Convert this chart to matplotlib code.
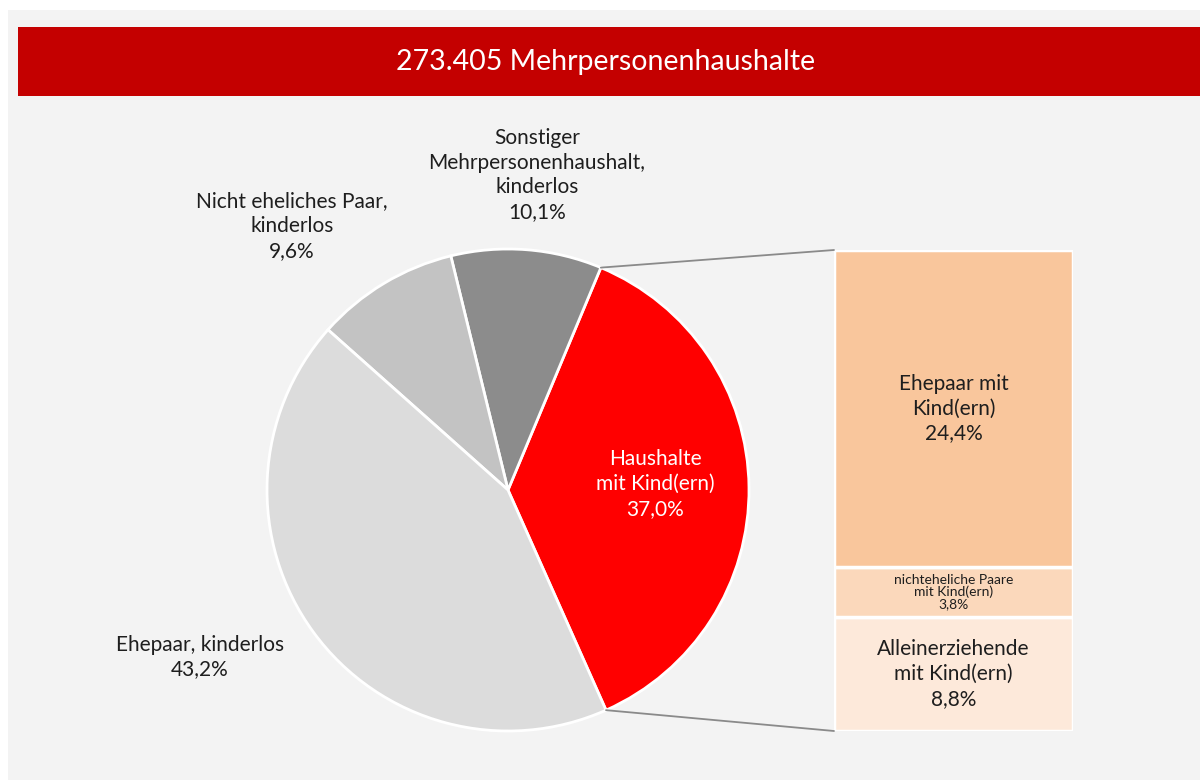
import matplotlib
matplotlib.use("Agg")
import matplotlib.pyplot as plt
from matplotlib.patches import Rectangle, ConnectionPatch
import numpy as np

# ---- data ----
pie_labels = ["Haushalte\nmit Kind(ern)", "Sonstiger\nMehrpersonenhaushalt,\nkinderlos",
              "Nicht eheliches Paar,\nkinderlos", "Ehepaar, kinderlos"]
pie_values = [37.0, 10.1, 9.6, 43.2]
pie_colors = ["#ff0000", "#8c8c8c", "#c3c3c3", "#dcdcdc"]

bar_labels = ["Alleinerziehende\nmit Kind(ern)", "nichteheliche Paare\nmit Kind(ern)", "Ehepaar mit\nKind(ern)"]
bar_values = [8.8, 3.8, 24.4]
bar_colors = ["#fde9da", "#fbd8bb", "#f9c69c"]

title = "273.405 Mehrpersonenhaushalte"

def fmt(v):
    return f"{v:.1f}".replace(".", ",") + "%"

plt.rcParams['font.family'] = ['Lato', 'DejaVu Sans']
W, H = 1200, 781
fig = plt.figure(figsize=(W / 100, H / 100), dpi=100)
fig.patch.set_facecolor("white")

def fx(x):
    return x / W

def fy(y):
    return 1 - y / H

# background panel and banner
fig.patches.append(Rectangle((fx(8), fy(780)), fx(1200) - fx(8), fy(10) - fy(780),
                             transform=fig.transFigure, facecolor="#f3f3f3", edgecolor="none", zorder=-3))
fig.patches.append(Rectangle((fx(18), fy(96)), fx(1200) - fx(18), fy(27) - fy(96),
                             transform=fig.transFigure, facecolor="#c40000", edgecolor="none", zorder=-2))
fig.text(fx(606), fy(62), title, color="white", fontsize=20.5, ha="center", va="center")

# pie
cx, cy, r = 508, 490, 241
ax_pie = fig.add_axes([fx(cx - r), fy(cy + r), 2 * r / W, 2 * r / H])
ax_pie.set_facecolor("none")
start = -66.0
wedges, _ = ax_pie.pie(pie_values, colors=pie_colors, startangle=start, counterclock=True,
                       radius=1, wedgeprops=dict(edgecolor="white", linewidth=2))
ax_pie.set_xlim(-1, 1)
ax_pie.set_ylim(-1, 1)
ax_pie.set_aspect("equal")
ax_pie.axis("off")

# bar
bx0, bx1, by0, by1 = 834, 1073, 250, 731
ax_bar = fig.add_axes([fx(bx0), fy(by1), (bx1 - bx0) / W, (by1 - by0) / H])
ax_bar.set_facecolor("none")
bottom = 0
for v, c in zip(bar_values, bar_colors):
    ax_bar.bar(0.5, v, width=1.0, bottom=bottom, color=c, edgecolor="white", linewidth=2.5)
    bottom += v
ax_bar.set_xlim(0, 1)
ax_bar.set_ylim(0, sum(bar_values))
ax_bar.axis("off")

# connection lines
w_red = wedges[0]
t1, t2 = np.deg2rad(w_red.theta1), np.deg2rad(w_red.theta2)
for t, yb in [(t2, sum(bar_values)), (t1, 0)]:
    con = ConnectionPatch(xyA=(np.cos(t), np.sin(t)), coordsA=ax_pie.transData,
                          xyB=(0, yb), coordsB=ax_bar.transData,
                          color="#8a8a8a", linewidth=1.3)
    fig.add_artist(con)

txt = "#1e1e1e"
fs = 15
ls_main = 1.3
# pie labels
fig.text(fx(655), fy(484), pie_labels[0] + "\n" + fmt(pie_values[0]), color="white",
         fontsize=fs, ha="center", va="center", linespacing=ls_main)
fig.text(fx(537), fy(175), pie_labels[1] + "\n" + fmt(pie_values[1]), color=txt,
         fontsize=fs, ha="center", va="center", linespacing=ls_main)
fig.text(fx(292), fy(226), pie_labels[2] + "\n" + fmt(pie_values[2]), color=txt,
         fontsize=fs, ha="center", va="center", linespacing=ls_main)
fig.text(fx(200), fy(657), pie_labels[3] + "\n" + fmt(pie_values[3]), color=txt,
         fontsize=fs, ha="center", va="center", linespacing=ls_main)

# bar labels
bottom = 0
sizes = [fs, 10, fs]
spacing = [ls_main, 0.95, ls_main]
for v, lab, s, ls in zip(bar_values, bar_labels, sizes, spacing):
    ax_bar.text(0.5, bottom + v / 2, lab + "\n" + fmt(v), color=txt, fontsize=s,
                ha="center", va="center", linespacing=ls)
    bottom += v

fig.savefig("out.png", dpi=100, facecolor=fig.get_facecolor())
